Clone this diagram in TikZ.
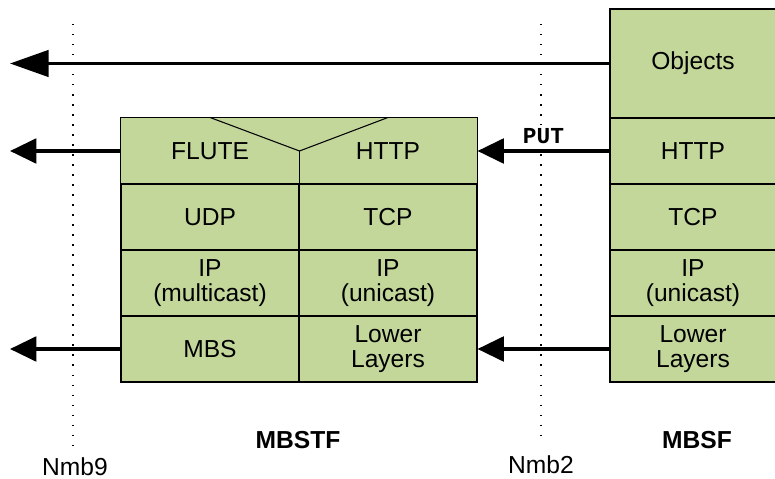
\documentclass[tikz,border=0pt]{standalone}
\usepackage{fontspec}
\setmainfont{Liberation Sans}
\setmonofont{Liberation Mono}
\usepackage{xcolor}
\usetikzlibrary{arrows.meta}
\definecolor{layergreen}{RGB}{196,215,155}

\begin{document}
\begin{tikzpicture}[x=0.02cm,y=-0.02cm,
    layer/.style={draw, fill=layergreen, line width=0.6pt, inner sep=0pt,
        minimum width=3.56cm, minimum height=1.32cm, align=center,
        font=\fontsize{14}{14.6}\selectfont},
    flow/.style={line width=2pt, -{Triangle[length=15pt,width=14pt]}},
    refline/.style={line width=0.8pt, dash pattern=on 0.8pt off 4.9pt}]
    \useasboundingbox (0,0) rectangle (775,479);

    % MBSTF protocol stack
    \begin{scope}
        \node[layer, draw=none] (flute) at (210,151) {FLUTE};
        \node[layer, draw=none] (http) at (388,151) {HTTP};
        \draw[line width=0.6pt] (flute.north west) rectangle (http.south east);
        \draw[line width=0.6pt] (flute.north) -- (flute.east) -- (http.north);
        \draw[line width=0.6pt] (flute.east) -- (flute.south east);

        \node[layer] (udp) at (210,217) {UDP};
        \node[layer] (tcp) at (388,217) {TCP};
        \node[layer] (ipmc) at (210,283) {IP\\(multicast)};
        \node[layer] (ipuc) at (388,283) {IP\\(unicast)};
        \node[layer] (mbs) at (210,349) {MBS};
        \node[layer] (lower) at (388,349) {Lower\\Layers};

        \node[font=\fontsize{14}{16}\selectfont\bfseries] (mbstflabel) at (298,440) {MBSTF};
    \end{scope}

    % MBSF protocol stack
    \begin{scope}[layer/.append style={minimum width=3.32cm}]
        \node[layer, minimum height=2.18cm] (objects) at (693,63.5) {Objects};
        \node[layer] (fhttp) at (693,151) {HTTP};
        \node[layer] (ftcp) at (693,217) {TCP};
        \node[layer] (fip) at (693,283) {IP\\(unicast)};
        \node[layer] (flower) at (693,349) {Lower\\Layers};

        \node[font=\fontsize{14}{16}\selectfont\bfseries] (mbsflabel) at (697,440) {MBSF};
    \end{scope}

    % Reference points
    \coordinate (nmbtop) at (73,24);
    \coordinate (nmbbot) at (73,447);
    \coordinate (ntwotop) at (541,24);
    \coordinate (ntwobot) at (541,437);
    \draw[refline] (nmbtop) -- (nmbbot);
    \draw[refline] (ntwotop) -- (ntwobot);
    \node[font=\fontsize{14}{16}\selectfont] (nmbnine) at (75,467) {Nmb9};
    \node[font=\fontsize{14}{16}\selectfont] (nmbtwo) at (541,465) {Nmb2};

    % Flows
    \coordinate (objout) at (10,63.5);
    \coordinate (fluteout) at (10,151);
    \coordinate (mbsout) at (10,349);
    \draw[line width=2pt, -{Triangle[length=22pt,width=15pt]}] (objects.west) -- (objout);
    \draw[flow] (flute.west) -- (fluteout);
    \draw[flow] (mbs.west) -- (mbsout);
    \draw[flow] (fhttp.west) -- (http.east)
        node[midway, above=1pt, fill=white, inner sep=2pt,
             font=\ttfamily\bfseries\fontsize{13}{14}\selectfont] (put) {PUT};
    \draw[flow] (flower.west) -- (lower.east);
\end{tikzpicture}
\end{document}
